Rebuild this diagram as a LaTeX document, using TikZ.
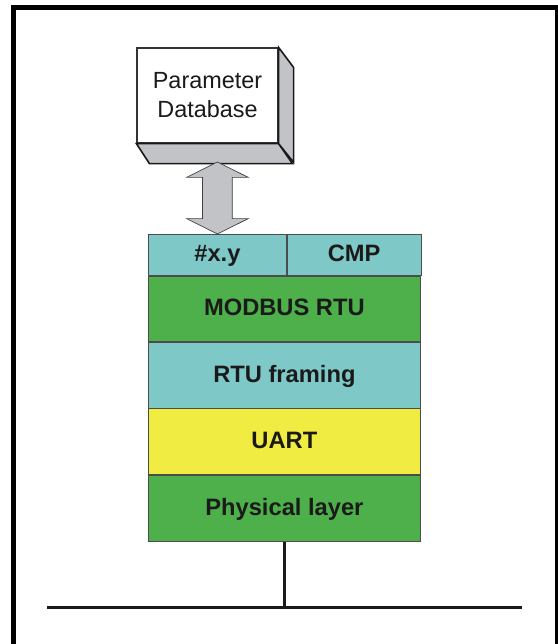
\documentclass[tikz,border=0pt]{standalone}
\usepackage{fontspec}
\setmainfont{Liberation Sans}
\usepackage{xcolor}
\usepackage{tikz}
\usetikzlibrary{shapes.arrows, positioning, calc}
\definecolor{layerteal}{HTML}{7FC8C8}
\definecolor{layergreen}{HTML}{4EB04A}
\definecolor{layeryellow}{HTML}{F1EC41}
\definecolor{sidegray}{HTML}{C2C3C7}
\definecolor{inkdark}{HTML}{1A1A1A}
\tikzstyle{dbface} = [rectangle, draw=black!80, line width=1.2bp, fill=white, minimum width=141bp, minimum height=95bp, inner sep=0pt, align=center, text=inkdark, font=\fontsize{23.4bp}{29bp}\selectfont]
\tikzstyle{dbside} = [draw=black!90, line width=1.6bp, fill=sidegray, line join=miter]
\tikzstyle{layer} = [rectangle, draw=black!70, line width=0.8bp, inner sep=0pt, minimum width=272bp, minimum height=66bp, text height=17bp, text depth=3bp, text=inkdark, font=\fontsize{23.7bp}{28bp}\selectfont\bfseries]
\tikzstyle{bigarrow} = [double arrow, draw=black!75, line width=0.7bp, fill=sidegray, rotate=90, inner sep=14.5bp, minimum height=72bp, minimum width=61bp, double arrow head extend=16bp, double arrow tip angle=127]
\tikzstyle{bus} = [line width=3bp, draw=inkdark]

\begin{document}
\begin{tikzpicture}[x=1bp, y=-1bp]
    \useasboundingbox (0,0) rectangle (558,644);

    % === FRAME (open at the bottom) ===
    \draw[line width=5bp, black] (13.5,660) -- (13.5,7.5) -- (557.5,7.5) -- (557.5,660);

    % === PARAMETER DATABASE (3d box) ===
    \node[dbface] (db) at (207.5,95.5) {Parameter\\Database};
    \draw[dbside] (db.south west) -- ++(13,20) -- ++(143,0) -- (db.south east) -- cycle;
    \draw[dbside] (db.north east) -- ++(15,20) -- ++(0,95) -- (db.south east) -- cycle;

    % === PROTOCOL STACK ===
    \node[layer, fill=layerteal, minimum width=138bp, minimum height=41bp, anchor=north west] (xy) at (148,234) {\#x.y};
    \node[layer, fill=layerteal, minimum width=134bp, minimum height=41bp, right=0pt of xy] (cmp) {CMP};
    \node[layer, fill=layergreen, minimum height=65bp, below right=0pt of xy.south west] (modbus) {MODBUS RTU};
    \node[layer, fill=layerteal, below=0pt of modbus] (framing) {RTU framing};
    \node[layer, fill=layeryellow, below=0pt of framing] (uart) {UART};
    \node[layer, fill=layergreen, below=0pt of uart] (phys) {Physical layer};

    % === ARROW between database and stack ===
    \node[bigarrow] (link) at ($(xy.north)+(0,-36)$) {};

    % === BUS ===
    \coordinate (busl) at (47,607);
    \coordinate (busr) at (522,607);
    \coordinate (tap) at (phys.south |- busl);
    \draw[bus] (busl) -- (busr);
    \draw[bus] (phys.south) -- (tap);
\end{tikzpicture}
\end{document}
